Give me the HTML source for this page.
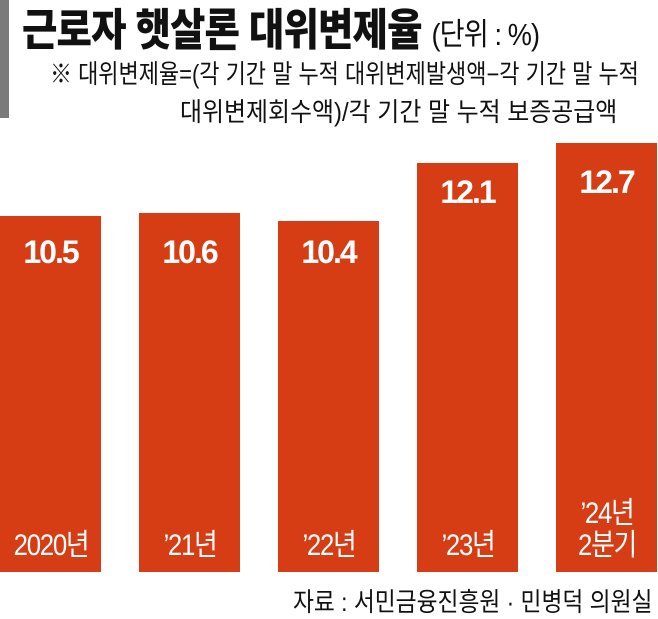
<!DOCTYPE html>
<html><head><meta charset="utf-8"><style>
body{margin:0;width:658px;height:613px;background:#fff;position:relative;overflow:hidden;font-family:"Liberation Sans","Noto Sans CJK KR",sans-serif;}
.t{position:absolute;white-space:nowrap;transform-origin:0 0;}
.bar{position:absolute;background:#d63d14;width:101px;bottom:41px;}
.v{position:absolute;color:#fff;font-weight:bold;font-size:32px;width:101px;text-align:center;letter-spacing:-2px;}
.l{position:absolute;color:#fff;font-size:30px;width:118px;margin-left:-8px;text-align:center;letter-spacing:-1.5px;line-height:32px;transform:scaleX(0.86);}
</style></head><body>
<div style="position:absolute;left:0;top:0;width:9px;height:118px;background:#7a7a7a"></div>
<div class="t" style="left:22px;top:-6px;font-size:44px;font-weight:900;color:#111;transform:scaleX(0.875);letter-spacing:-1px">근로자 햇살론 대위변제율 <span style="font-size:31px;font-weight:normal">(단위 : %)</span></div>
<div class="t" style="left:50px;top:54px;font-size:26px;color:#111;transform:scaleX(0.845)">※ 대위변제율=(각 기간 말 누적 대위변제발생액−각 기간 말 누적</div>
<div class="t" style="left:180px;top:92px;font-size:26px;color:#111;transform:scaleX(0.92)">대위변제회수액)/각 기간 말 누적 보증공급액</div>
<div class="bar" style="left:0;top:216px"></div>
<div class="bar" style="left:139px;top:213px"></div>
<div class="bar" style="left:278px;top:221px"></div>
<div class="bar" style="left:417px;top:163px"></div>
<div class="bar" style="left:556px;top:143px"></div>
<div class="v" style="left:0;top:234px">10.5</div>
<div class="v" style="left:139px;top:234px">10.6</div>
<div class="v" style="left:278px;top:234px">10.4</div>
<div class="v" style="left:417px;top:174px">12.1</div>
<div class="v" style="left:556px;top:164px">12.7</div>
<div class="l" style="left:0;top:530px">2020년</div>
<div class="l" style="left:139px;top:530px">’21년</div>
<div class="l" style="left:278px;top:530px">’22년</div>
<div class="l" style="left:417px;top:530px">’23년</div>
<div class="l" style="left:556px;top:498px">’24년<br>2분기</div>
<div class="t" style="left:293px;top:582px;font-size:26px;color:#111;transform:scaleX(0.875)">자료 : 서민금융진흥원 · 민병덕 의원실</div>
</body></html>
